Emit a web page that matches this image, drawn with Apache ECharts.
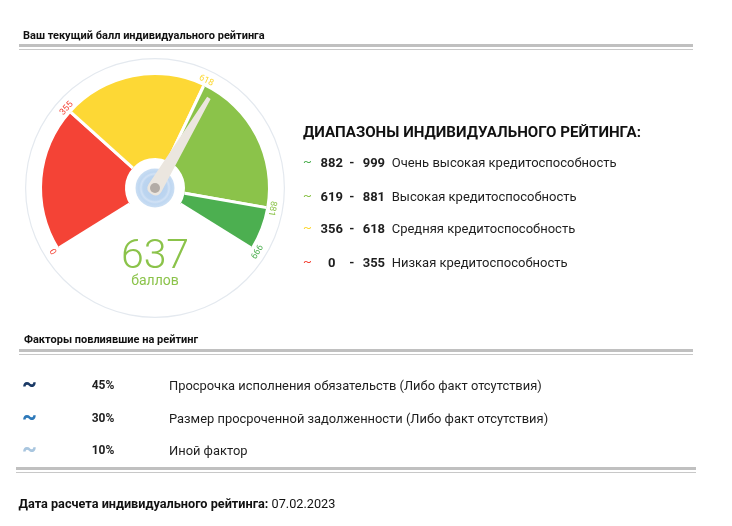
<!DOCTYPE html>
<html><head><meta charset="utf-8">
<script src="https://cdn.jsdelivr.net/npm/echarts@6/dist/echarts.min.js"></script>
<style>
html,body{margin:0;padding:0;width:732px;height:526px;overflow:hidden;background:#fff;font-family:Roboto,'Noto Sans',sans-serif;color:#1e1e1e;}
#chart{position:absolute;left:0;top:0;width:732px;height:526px;}
#overlay{position:absolute;left:0;top:0;width:732px;height:526px;pointer-events:none;}
.t{position:absolute;white-space:nowrap;}
.ln{position:absolute;}
</style></head><body>
<div id="chart"></div>
<div id="overlay"></div>
<script>
// ---- data ----
const bounds = [0, 355, 618, 881, 999];
const score = 637;
const scoreUnit = 'баллов';
const rangeFrom = [882, 619, 356, 0];
const rangeTo = [999, 881, 618, 355];
const rangeNames = ['Очень высокая кредитоспособность', 'Высокая кредитоспособность', 'Средняя кредитоспособность', 'Низкая кредитоспособность'];
const factorPct = [45, 30, 10];
const factorNames = ['Просрочка исполнения обязательств (Либо факт отсутствия)', 'Размер просроченной задолженности (Либо факт отсутствия)', 'Иной фактор'];
const calcDate = '07.02.2023';
const titleMain = 'Ваш текущий балл индивидуального рейтинга';
const titleRanges = 'ДИАПАЗОНЫ ИНДИВИДУАЛЬНОГО РЕЙТИНГА:';
const titleFactors = 'Факторы повлиявшие на рейтинг';
const dateLabel = 'Дата расчета индивидуального рейтинга:';

// ---- styles / layout ----
const segColors = ['#f44336', '#fdd835', '#8bc34a', '#4caf50'];
const rangeColors = ['#4caf50', '#8bc34a', '#fdd835', '#f44336'];
const factorColors = ['#1b3a66', '#2e79b9', '#a9c6df'];
const segAngles = [212, 138, 64.5, -10, -32];
const C = [155, 188];
const R = 113, W = 83;

const off = {show:false};
const series = [];
series.push({type:'gauge', z:1, center:C, radius:130, startAngle:90, endAngle:-270,
  axisLine:{lineStyle:{width:1.2, color:[[1,'#e4e9ef']]}},
  splitLine:off, axisTick:off, axisLabel:off, pointer:off, anchor:off, title:off, detail:off, data:[]});
// centre knob
series.push({type:'pie', z:1, silent:true, center:C, radius:[0, 19.5], label:off, labelLine:off,
  itemStyle:{color:{type:'radial', x:0.5, y:0.5, r:0.5, colorStops:[
    {offset:0, color:'#b6d0ee'}, {offset:0.62, color:'#bcd5f0'}, {offset:0.72, color:'#d2e2f5'}, {offset:0.82, color:'#bfd7f1'}, {offset:1, color:'#cadef3'}]}},
  data:[{value:1}]});
let mainSeg = 0;
for (let i = 0; i < 4; i++) {
  if (score >= bounds[i] && score <= bounds[i+1]) mainSeg = i;
  series.push({
    type:'gauge', z:2, center:C, radius:R,
    startAngle:segAngles[i], endAngle:segAngles[i+1],
    min:bounds[i], max:bounds[i+1], splitNumber:1,
    axisLine:{lineStyle:{width:W, color:[[1, segColors[i]]]}},
    splitLine:{show:true, distance:-W, length:W, lineStyle:{color:'#fff', width:3}},
    axisTick:off,
    axisLabel:{show:true, distance:-6, rotate:'tangential', color:segColors[i], fontSize:9, fontFamily:'Roboto',
      formatter: v => (v === bounds[i+1] || (i === 0 && v === bounds[0])) ? String(v) : ''},
    pointer:off, anchor:off, title:off, detail:off, data:[]
  });
}
// pointer + value, on the scale of the segment that holds the score
series.push({
  type:'gauge', z:5, center:C, radius:R,
  startAngle:segAngles[mainSeg], endAngle:segAngles[mainSeg+1],
  min:bounds[mainSeg], max:bounds[mainSeg+1],
  axisLine:off, splitLine:off, axisTick:off, axisLabel:off,
  pointer:{show:true, icon:'path://M5.5 0 L9.5 0 L15 105 Q15 112 7.5 112 Q0 112 0 105 Z', length:112, width:15, offsetCenter:[0,7], itemStyle:{color:'#ebe6df'}},
  anchor:{show:true, showAbove:true, size:10, itemStyle:{color:'#b3aca6'}},
  title:{show:true, offsetCenter:[0,93], fontSize:14, color:'#8bc34a', fontFamily:'Roboto'},
  detail:{show:true, offsetCenter:[0,70], fontSize:41, fontWeight:300, color:'#8bc34a', fontFamily:'Roboto', formatter:'{value}', valueAnimation:false},
  data:[{value:score, name:scoreUnit}]
});
const chart = echarts.init(document.getElementById('chart'), null, {renderer:'canvas'});
chart.setOption({animation:false, series});

// ---- surrounding text ----
const ov = document.getElementById('overlay');
function txt(html, left, cy, size, weight, color, align, w) {
  const d = document.createElement('div');
  d.className = 't';
  d.innerHTML = html;
  const lh = Math.round(size * 1.2);
  d.style.cssText = `top:${cy - lh/2}px;font-size:${size}px;line-height:${lh}px;font-weight:${weight};color:${color};`;
  if (align === 'center') { d.style.left = (left - w/2) + 'px'; d.style.width = w + 'px'; d.style.textAlign = 'center'; }
  else d.style.left = left + 'px';
  ov.appendChild(d);
  return d;
}
function line(left, top, width, h, color) {
  const d = document.createElement('div');
  d.className = 'ln';
  d.style.cssText = `left:${left}px;top:${top}px;width:${width}px;height:${h}px;background:${color};`;
  ov.appendChild(d);
}
txt(titleMain, 23, 35, 11, 700, '#111');
line(19, 44, 674, 3, '#c0c0c0');
line(19, 49, 674, 1, '#c8c8c8');

txt(titleRanges, 303, 132, 15.1, 700, '#111');
const rowY = [163.3, 197.3, 229.3, 263.3];
for (let i = 0; i < 4; i++) {
  txt('~', 303, rowY[i] - 1, 13, 400, rangeColors[i]);
  txt(String(rangeFrom[i]), 331.7, rowY[i], 13, 700, '#1e1e1e', 'center', 30);
  txt('-', 351.7, rowY[i], 13, 700, '#1e1e1e', 'center', 10);
  txt(String(rangeTo[i]), 362.7, rowY[i], 13, 700, '#1e1e1e');
  txt(rangeNames[i], 391.7, rowY[i], 13, 400, '#1e1e1e');
}

txt(titleFactors, 24, 339.5, 11, 700, '#111');
line(19, 349, 674, 3, '#c0c0c0');
line(19, 354, 674, 1, '#c8c8c8');
const fY = [385, 418.3, 450];
for (let i = 0; i < 3; i++) {
  txt('~', 22, fY[i] - 1, 23, 700, factorColors[i]);
  txt(factorPct[i] + '%', 91.7, fY[i], 12, 700, '#1e1e1e');
  txt(factorNames[i], 169, fY[i], 12.9, 400, '#1e1e1e');
}
line(16, 467, 680, 3, '#c0c0c0');
line(16, 472, 680, 1, '#c8c8c8');
txt('<b>' + dateLabel + '</b> ' + calcDate, 18.5, 503.3, 12.7, 400, '#111');
</script>
</body></html>
